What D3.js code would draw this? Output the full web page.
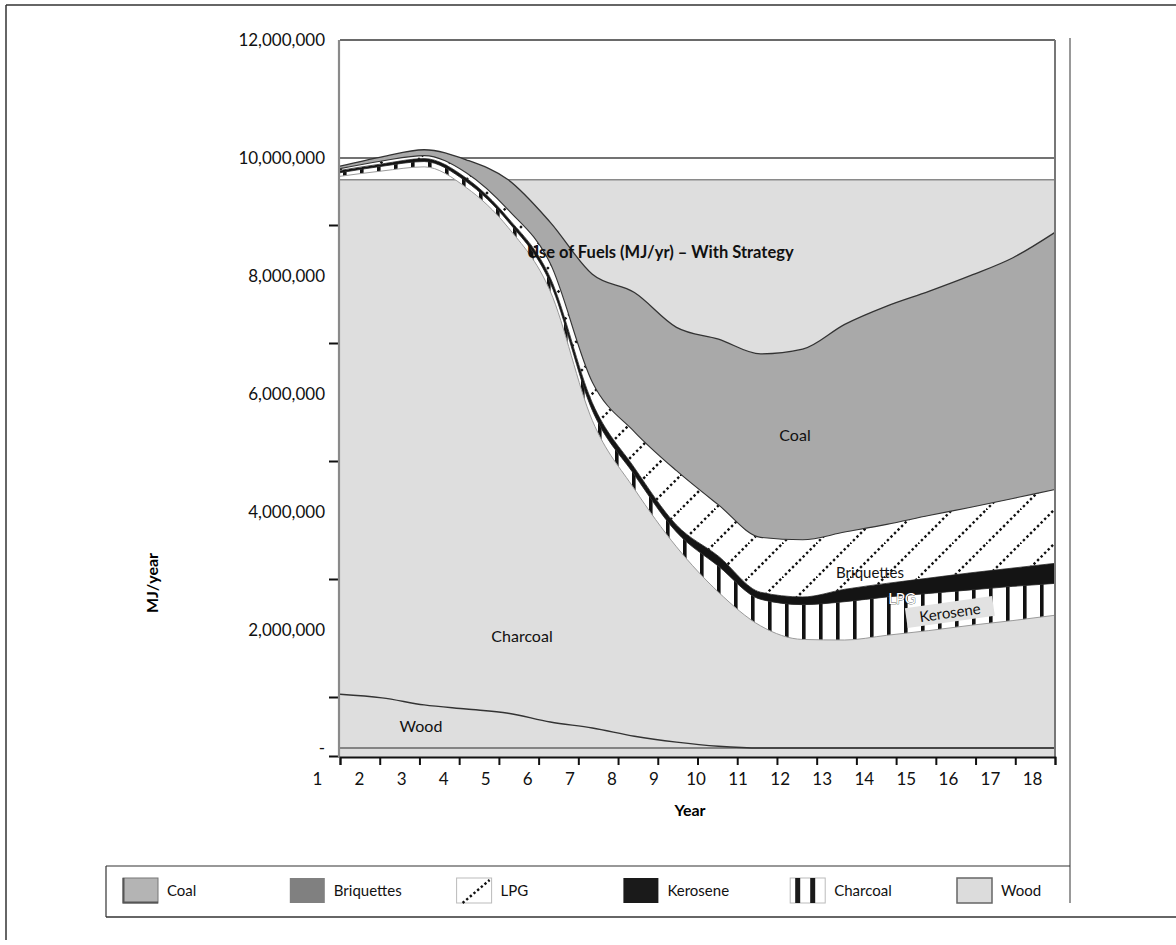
<!DOCTYPE html>
<html>
<head>
<meta charset="utf-8">
<script src="https://cdn.jsdelivr.net/npm/d3@7"></script>
<style>
  html, body { margin: 0; padding: 0; background: #fff; }
  svg { display: block; font-family: Lato, "Open Sans", sans-serif; }
</style>
</head>
<body>
<svg id="chart" width="1176" height="945"></svg>
<script>
// ---------------- data ----------------
const years = [1,2,3,4,5,6,7,8,9,10,11,12,13,14,15,16,17,18];
// stacked series, bottom to top (names as labelled inside the chart)
const wood       = [910000, 850000, 730000, 660000, 590000, 440000, 340000, 200000, 100000, 30000, 0, 0, 0, 0, 0, 0, 0, 0];
const charcoal   = [8780000, 8930000, 9120000, 8840000, 8230000, 7300000, 5210000, 4190000, 3310000, 2610000, 2070000, 1840000, 1830000, 1910000, 1990000, 2080000, 2160000, 2250000];
const kerosene   = [60000, 80000, 90000, 100000, 100000, 140000, 170000, 240000, 250000, 440000, 450000, 590000, 650000, 650000, 630000, 600000, 580000, 540000];
const lpg        = [40000, 40000, 50000, 60000, 60000, 90000, 130000, 120000, 120000, 170000, 120000, 130000, 210000, 230000, 260000, 290000, 310000, 340000];
const briquettes = [30000, 50000, 50000, 90000, 140000, 240000, 350000, 610000, 920000, 870000, 930000, 970000, 970000, 1000000, 1060000, 1110000, 1180000, 1250000];
const coal       = [40000, 70000, 100000, 220000, 510000, 700000, 1830000, 2360000, 2430000, 2810000, 3110000, 3230000, 3520000, 3700000, 3800000, 3930000, 4080000, 4360000];
const plotFillTop = 9630000;
const refLine = 10000000;
const yTicks = [0, 2000000, 4000000, 6000000, 8000000, 10000000, 12000000];
const yMinorTicks = [1000000, 3000000, 5000000, 7000000, 9000000];
const legendNames = ["Coal", "Briquettes", "LPG", "Kerosene", "Charcoal", "Wood"];
const seriesKeys = ["wood", "charcoal", "kerosene", "lpg", "briquettes", "coal"];

const table = years.map((yr, i) => ({
  year: yr, wood: wood[i], charcoal: charcoal[i], kerosene: kerosene[i],
  lpg: lpg[i], briquettes: briquettes[i], coal: coal[i]
}));

// ---------------- layout ----------------
const svg = d3.select("#chart");
const L = 340, R = 1055, T = 40, B = 748, AX = 757;

const x = d3.scaleLinear().domain([1, 18]).range([L, R]);
const xTick = d3.scaleLinear().domain([0, 18]).range([L, R]);
const xLabel = d3.scaleLinear().domain([1, 18]).range([317, 1032]);
const y = d3.scaleLinear().domain([0, 12000000]).range([B, T]);

// patterns
const defs = svg.append("defs");
const vs = defs.append("pattern").attr("id", "vstripe").attr("patternUnits", "userSpaceOnUse")
  .attr("width", 17).attr("height", 10).attr("x", 3);
vs.append("rect").attr("width", 17).attr("height", 10).attr("fill", "#fff");
vs.append("rect").attr("width", 3.6).attr("height", 10).attr("fill", "#111");

const dg = defs.append("pattern").attr("id", "diag").attr("patternUnits", "userSpaceOnUse")
  .attr("width", 34).attr("height", 34);
dg.append("rect").attr("width", 34).attr("height", 34).attr("fill", "#fff");
dg.append("path").attr("d", "M-4,38 L38,-4")
  .attr("stroke", "#111").attr("stroke-width", 2.4).attr("stroke-dasharray", "2.4,2.6");

// outer frame
svg.append("line").attr("x1", 6).attr("y1", 5).attr("x2", 1176).attr("y2", 5).attr("stroke", "#333").attr("stroke-width", 1.5);
svg.append("line").attr("x1", 6).attr("y1", 5).attr("x2", 6).attr("y2", 940).attr("stroke", "#333").attr("stroke-width", 1.5);

// plot background (gray fill up to plotFillTop)
svg.append("rect").attr("x", L).attr("y", y(plotFillTop)).attr("width", R - L).attr("height", AX - y(plotFillTop))
  .attr("fill", "#dedede");
svg.append("line").attr("x1", L).attr("x2", R).attr("y1", y(plotFillTop)).attr("y2", y(plotFillTop))
  .attr("stroke", "#8a8a8a").attr("stroke-width", 1.5);
svg.append("line").attr("x1", L).attr("x2", R).attr("y1", y(0)).attr("y2", y(0))
  .attr("stroke", "#666").attr("stroke-width", 1.5);

// top border & 10M line
svg.append("line").attr("x1", L).attr("x2", R).attr("y1", y(12000000)).attr("y2", y(12000000))
  .attr("stroke", "#6a6a6a").attr("stroke-width", 2.2);
svg.append("line").attr("x1", L).attr("x2", R).attr("y1", y(refLine)).attr("y2", y(refLine))
  .attr("stroke", "#444").attr("stroke-width", 1.5);

// stacked areas
const stack = d3.stack().keys(seriesKeys);
const layers = stack(table);
const curve = d3.curveMonotoneX;
const area = d3.area().x(d => x(d.data.year)).y0(d => y(d[0])).y1(d => y(d[1])).curve(curve);
const topLine = d3.line().x(d => x(d.data.year)).y(d => y(d[1])).curve(curve);

const fills = { wood: "none", charcoal: "none", kerosene: "url(#vstripe)", lpg: "#141414", briquettes: "url(#diag)", coal: "#a9a9a9" };
const strokes = { wood: ["#333", 1.4], charcoal: ["#9a9a9a", 1], kerosene: ["#222", 0.8], lpg: ["#222", 0.8], briquettes: ["#333", 1.1], coal: ["#333", 1.3] };

svg.append("g").selectAll("path.area").data(layers).join("path")
  .attr("class", "area").attr("d", area).attr("fill", d => fills[d.key]);
svg.append("g").selectAll("path.top").data(layers).join("path")
  .attr("class", "top").attr("d", topLine).attr("fill", "none")
  .attr("stroke", d => strokes[d.key][0]).attr("stroke-width", d => strokes[d.key][1]);

// right border of plot & far vertical line
svg.append("line").attr("x1", R).attr("x2", R).attr("y1", T).attr("y2", AX).attr("stroke", "#777").attr("stroke-width", 2);
svg.append("line").attr("x1", 1070).attr("x2", 1070).attr("y1", 38).attr("y2", 903).attr("stroke", "#999").attr("stroke-width", 2);

// y axis
const yAxis = svg.append("g").attr("transform", `translate(${L - 1},0)`)
  .call(d3.axisLeft(y).tickValues(yTicks).tickSize(0).tickPadding(14)
    .tickFormat(d => d === 0 ? "-" : d3.format(",")(d)));
yAxis.select(".domain").remove();
yAxis.selectAll("text").attr("font-size", 17).attr("fill", "#111").attr("font-family", "Lato, sans-serif");
const yMinor = svg.append("g").attr("transform", `translate(${L - 1},8)`)
  .call(d3.axisLeft(y).tickValues(yMinorTicks.concat([0])).tickSize(10).tickFormat(""));
yMinor.select(".domain").remove();
yMinor.selectAll("line").attr("stroke", "#111").attr("stroke-width", 2);
svg.append("line").attr("x1", L - 1).attr("x2", L - 1).attr("y1", T).attr("y2", AX).attr("stroke", "#8a8a8a").attr("stroke-width", 2.2);

// x axis ticks
const xAxis = svg.append("g").attr("transform", `translate(0,${AX})`)
  .call(d3.axisBottom(xTick).tickValues(d3.range(0, 19)).tickSize(8).tickFormat(""));
xAxis.select(".domain").attr("stroke", "#111").attr("stroke-width", 1.8);
xAxis.selectAll("line").attr("stroke", "#111").attr("stroke-width", 2);
const xLab = svg.append("g").attr("transform", `translate(0,${AX})`)
  .call(d3.axisBottom(xLabel).tickValues(years).tickSize(0).tickPadding(16));
xLab.select(".domain").remove();
xLab.selectAll("text").attr("font-size", 17).attr("fill", "#111").attr("font-family", "Lato, sans-serif");

// axis titles
svg.append("text").attr("x", 690).attr("y", 816).attr("text-anchor", "middle")
  .attr("font-weight", "bold").attr("font-size", 16).text("Year");
svg.append("text").attr("transform", "translate(158,583) rotate(-90)").attr("text-anchor", "middle")
  .attr("font-weight", "bold").attr("font-size", 16).text("MJ/year");

// chart title
svg.append("text").attr("x", 527).attr("y", 258).attr("font-weight", "bold").attr("font-size", 16.5)
  .attr("fill", "#111").text("Use of Fuels (MJ/yr) – With Strategy");

// in-chart labels
const lab = (t, px, py, opts = {}) => svg.append("text").attr("x", px).attr("y", py)
  .attr("text-anchor", "middle").attr("font-size", opts.size || 16).attr("fill", opts.fill || "#111").text(t);
lab("Coal", 795, 441);
lab("Charcoal", 522, 642);
lab("Wood", 421, 732);
lab("Briquettes", 870, 578, { size: 15 });
lab("LPG", 902, 604, { fill: "#fff", size: 15 })
  .attr("stroke", "#111").attr("stroke-width", 0.6).attr("paint-order", "stroke");
const kg = svg.append("g").attr("transform", "translate(950,613) rotate(-8)");
kg.append("rect").attr("x", -44).attr("y", -11).attr("width", 88).attr("height", 20).attr("fill", "#e2e2e2");
kg.append("text").attr("x", 0).attr("y", 5).attr("text-anchor", "middle").attr("font-size", 15).attr("fill", "#111").text("Kerosene");

// legend
const lgTop = 866, lgBot = 917;
svg.append("line").attr("x1", 106).attr("x2", 1070).attr("y1", lgTop).attr("y2", lgTop).attr("stroke", "#333").attr("stroke-width", 1.2);
svg.append("line").attr("x1", 106).attr("x2", 106).attr("y1", lgTop).attr("y2", lgBot).attr("stroke", "#333").attr("stroke-width", 1.2);
svg.append("line").attr("x1", 106).attr("x2", 1176).attr("y1", lgBot).attr("y2", lgBot).attr("stroke", "#333").attr("stroke-width", 1.5);

const lx = d3.scalePoint().domain(legendNames).range([123, 957]);
const sw = 35, sh = 25, sy = 878;
const lg = svg.append("g").selectAll("g").data(legendNames).join("g")
  .attr("transform", d => `translate(${lx(d)},${sy})`);
lg.each(function(name) {
  const g = d3.select(this);
  if (name === "Coal") {
    g.append("rect").attr("width", sw).attr("height", sh).attr("fill", "#b4b4b4").attr("stroke", "#777").attr("stroke-width", 1);
    g.append("path").attr("d", `M0.5,0 V${sh - 0.5} H${sw}`).attr("fill", "none").attr("stroke", "#555").attr("stroke-width", 2);
  } else if (name === "Briquettes") {
    g.append("rect").attr("width", sw).attr("height", sh).attr("fill", "#808080");
  } else if (name === "LPG") {
    g.append("rect").attr("width", sw).attr("height", sh).attr("fill", "#fff").attr("stroke", "#bbb").attr("stroke-width", 1);
    g.append("path").attr("d", `M6,${sh} L${sw - 2},2`).attr("stroke", "#111").attr("stroke-width", 2.4).attr("stroke-dasharray", "2.4,2.4");
  } else if (name === "Kerosene") {
    g.append("rect").attr("width", sw).attr("height", sh).attr("fill", "#1a1a1a");
  } else if (name === "Charcoal") {
    g.append("rect").attr("width", sw).attr("height", sh).attr("fill", "#fff").attr("stroke", "#bbb").attr("stroke-width", 1);
    g.append("rect").attr("x", 5).attr("width", 5).attr("height", sh).attr("fill", "#1a1a1a");
    g.append("rect").attr("x", 20).attr("width", 5).attr("height", sh).attr("fill", "#1a1a1a");
  } else {
    g.append("rect").attr("width", sw).attr("height", sh).attr("fill", "#dcdcdc").attr("stroke", "#666").attr("stroke-width", 1.5);
  }
  g.append("text").attr("x", sw + 9).attr("y", sh / 2 + 5).attr("font-size", 15).attr("fill", "#111").text(name);
});
</script>
</body>
</html>
